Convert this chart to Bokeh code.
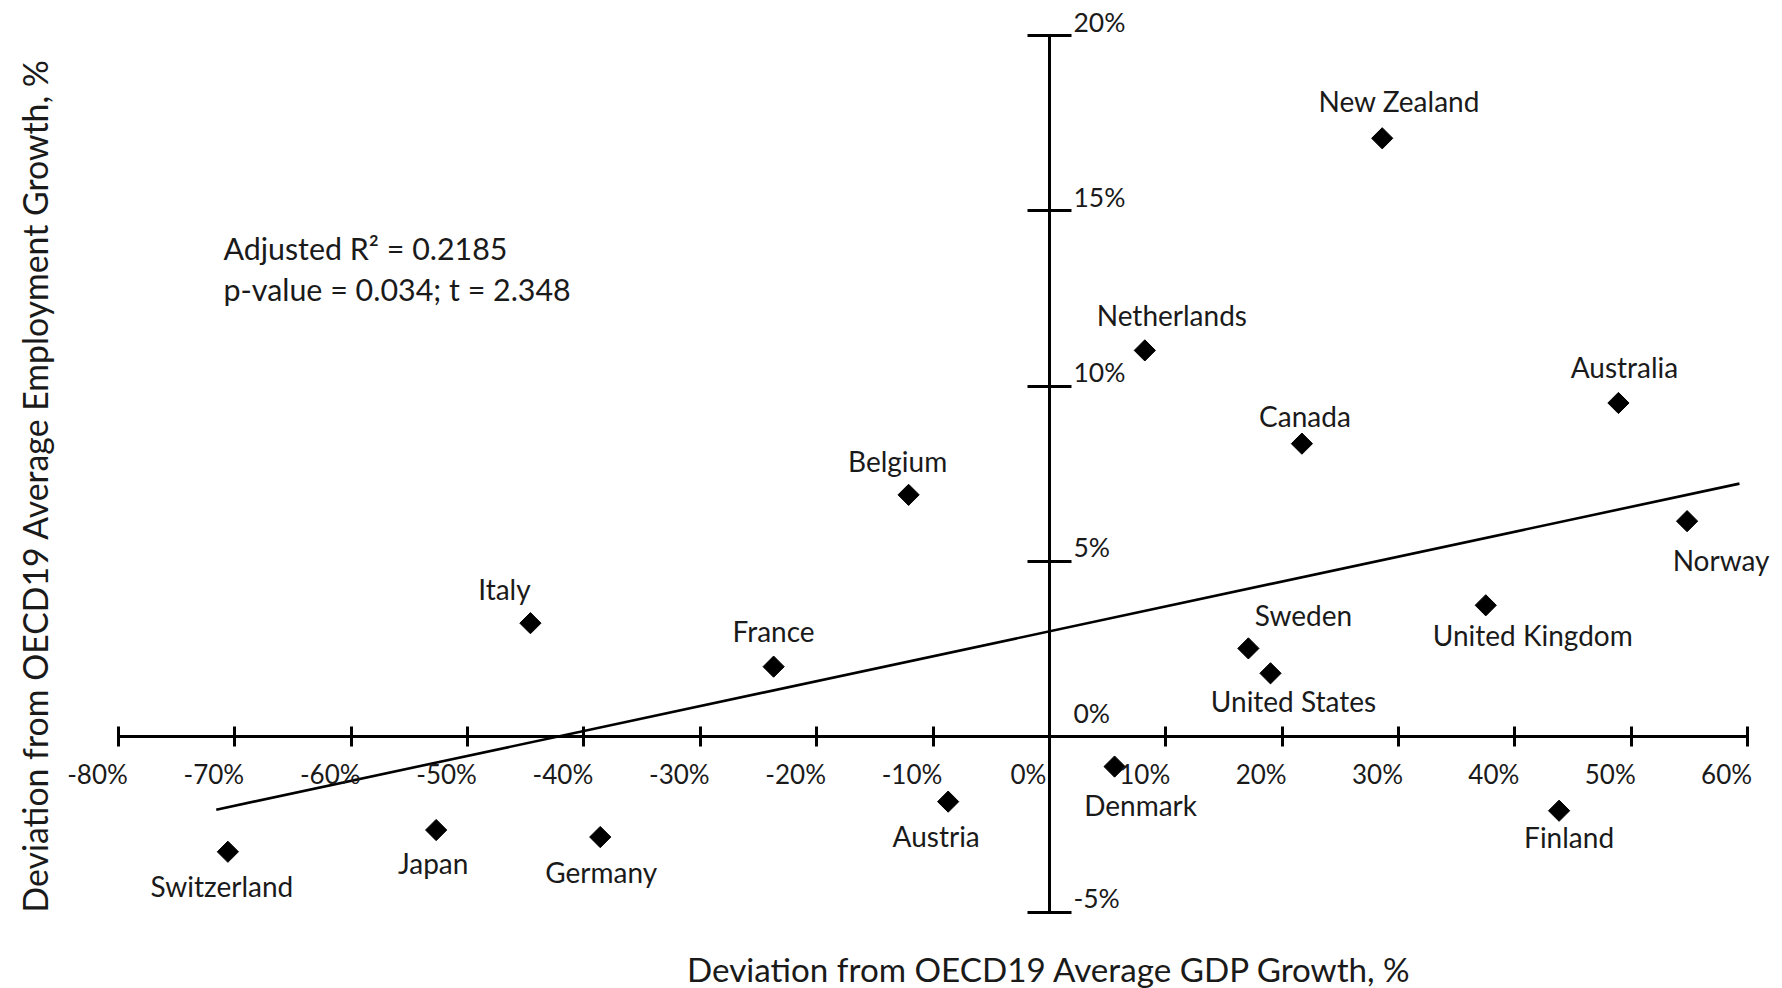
import math
from bokeh.plotting import figure
from bokeh.models import Range1d, LinearAxis, FixedTicker, ColumnDataSource, CustomJSTickFormatter
from bokeh.core.properties import value
from bokeh.embed import file_html
from bokeh.resources import INLINE

# ---------------- data ----------------
countries = ["New Zealand", "Netherlands", "Australia", "Canada", "Belgium", "Norway",
             "Italy", "United Kingdom", "France", "Sweden", "United States", "Denmark",
             "Austria", "Finland", "Japan", "Germany", "Switzerland"]
gdp_dev = [28.6, 8.2, 48.9, 21.7, -12.1, 54.8,
           -44.6, 37.5, -23.7, 17.1, 19.0, 5.6,
           -8.7, 43.8, -52.7, -38.6, -70.6]
emp_dev = [17.07, 11.02, 9.52, 8.36, 6.90, 6.15,
           3.24, 3.75, 2.00, 2.52, 1.81, -0.85,
           -1.85, -2.11, -2.66, -2.86, -3.28]

trend_x = [-71.6, 59.3]
trend_y = [-2.08, 7.22]

x_ticks = [-80, -70, -60, -50, -40, -30, -20, -10, 0, 10, 20, 30, 40, 50, 60]
x_tick_labels = ["-80%", "-70%", "-60%", "-50%", "-40%", "-30%", "-20%", "-10%", "0%",
                 "10%", "20%", "30%", "40%", "50%", "60%"]
y_ticks = [-5, 0, 5, 10, 15, 20]
y_tick_labels = ["-5%", "0%", "5%", "10%", "15%", "20%"]

stats_lines = ["Adjusted R\u00b2 = 0.2185", "p-value = 0.034; t = 2.348"]
x_title = "Deviation from OECD19 Average GDP Growth, %"
y_title = "Deviation from OECD19 Average Employment Growth, %"

# ---------------- label placement (screen px offsets) ----------------
label_dx = [17, 27, 6, 3, -11, 34, -26, 47, 0, 55, 23, 26, -12, 10, -3, 1, -6]
label_dy = [-37, -35, -36, -28, -34, 39, -34, 30, -36, -33, 28, 38, 34, 26, 33, 35, 34]
ytick_label_dy = [-14, -24, -14, -14, -14, -14]

FONT = "Lato"
TXT = "#1a1a1a"

W, H = 1782, 988
p = figure(width=W, height=H, x_range=Range1d(-90.14, 63.0), y_range=Range1d(-7.18, 21.0),
           x_axis_location=None, y_axis_location=None, toolbar_location=None,
           output_backend="svg", min_border=0)
p.outline_line_color = None
p.xgrid.visible = False
p.ygrid.visible = False
p.background_fill_color = "white"
p.border_fill_color = "white"

xa = LinearAxis(fixed_location=0, bounds=(x_ticks[0], x_ticks[-1]),
                ticker=FixedTicker(ticks=x_ticks), formatter=CustomJSTickFormatter(code="return ''"),
                axis_line_width=3, axis_line_color="black",
                major_tick_line_width=3, major_tick_line_color="black",
                major_tick_in=10, major_tick_out=10, minor_tick_line_color=None)
p.add_layout(xa, "below")
ya = LinearAxis(fixed_location=0, bounds=(y_ticks[0], y_ticks[-1]),
                ticker=FixedTicker(ticks=y_ticks), formatter=CustomJSTickFormatter(code="return ''"),
                axis_line_width=3, axis_line_color="black",
                major_tick_line_width=3, major_tick_line_color="black",
                major_tick_in=22, major_tick_out=22, minor_tick_line_color=None)
p.add_layout(ya, "right")

# trend line
p.line(trend_x, trend_y, line_color="black", line_width=2.6)

# points and labels
src = ColumnDataSource(dict(x=gdp_dev, y=emp_dev, name=countries, dx=label_dx, dy=label_dy))
p.scatter("x", "y", source=src, marker="square", size=15, angle=math.pi / 4,
          fill_color="black", line_color="black")
p.text("x", "y", text="name", x_offset="dx", y_offset="dy", source=src,
       text_font=value(FONT), text_font_size="28px", text_align="center",
       text_baseline="middle", text_color=TXT)

# tick labels
p.text(x=x_ticks, y=[0] * len(x_ticks), text=x_tick_labels, x_offset=-21, y_offset=37,
       text_font=value(FONT), text_font_size="26px", text_align="center",
       text_baseline="middle", text_color=TXT)
ysrc = ColumnDataSource(dict(x=[0] * len(y_ticks), y=y_ticks, t=y_tick_labels, dy=ytick_label_dy))
p.text("x", "y", text="t", y_offset="dy", x_offset=24, source=ysrc,
       text_font=value(FONT), text_font_size="26.5px", text_align="left",
       text_baseline="middle", text_color=TXT)

# stats annotation
p.text(x=[-70.98, -70.98], y=[13.93, 12.76], text=stats_lines,
       text_font=value(FONT), text_font_size="30.4px", text_align="left",
       text_baseline="middle", text_color=TXT)

# axis titles
p.text(x=[0], y=[-6.61], text=[x_title], text_font=value(FONT), text_font_size="33.2px",
       text_align="center", text_baseline="middle", text_color=TXT)
p.text(x=[-87.14], y=[7.16], text=[y_title], angle=math.pi / 2, text_font=value(FONT),
       text_font_size="33.8px", text_align="center", text_baseline="middle", text_color=TXT)

open("out.html", "w").write(file_html(p, INLINE))
